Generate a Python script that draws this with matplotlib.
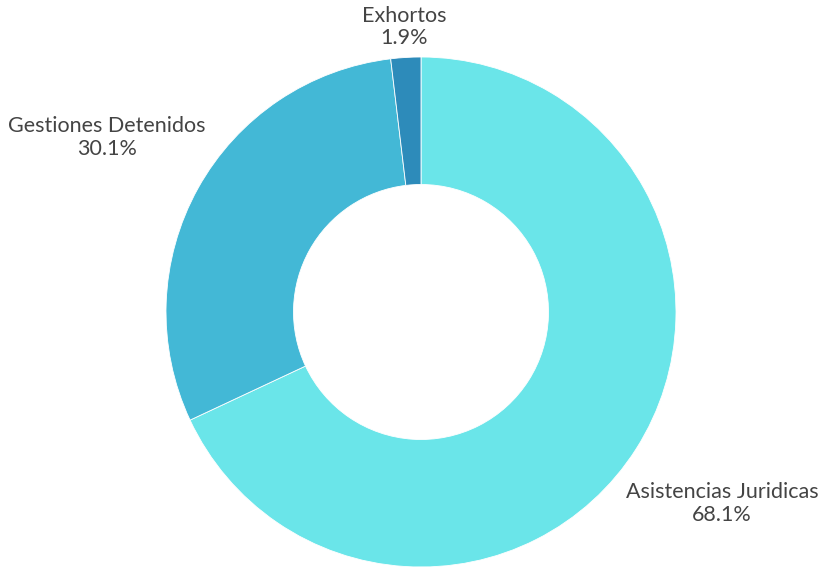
import numpy as np
import matplotlib.pyplot as plt

labels = ["Asistencias Juridicas", "Gestiones Detenidos", "Exhortos"]
values = [68.1, 30.1, 1.9]
colors = ["#6ae5e9", "#43b8d6", "#2d8bba"]
label_dist = [1.40, 1.41, 1.12]

fig = plt.figure(figsize=(8.21, 5.69), dpi=100)
ax = fig.add_axes([0, 0, 1, 1])

cx, cy, r = 421, 569 - 312, 255
wedges, _ = ax.pie(values, colors=colors, startangle=90, counterclock=False,
                   center=(cx, cy), radius=r, frame=True,
                   wedgeprops=dict(width=r * 0.5, edgecolor="white", linewidth=0.6))
ax.set_xlim(0, 821)
ax.set_ylim(0, 569)
ax.set_aspect("equal")
ax.axis("off")

for w, lab, v, d in zip(wedges, labels, values, label_dist):
    ang = np.deg2rad((w.theta1 + w.theta2) / 2)
    x = cx + d * r * np.cos(ang)
    y = cy + d * r * np.sin(ang)
    ax.text(x, y, f"{lab}\n{v}%", ha="center", va="center", fontsize=15.5,
            color="#444444", family="Lato", linespacing=1.15)

fig.savefig("out.png", dpi=100)
